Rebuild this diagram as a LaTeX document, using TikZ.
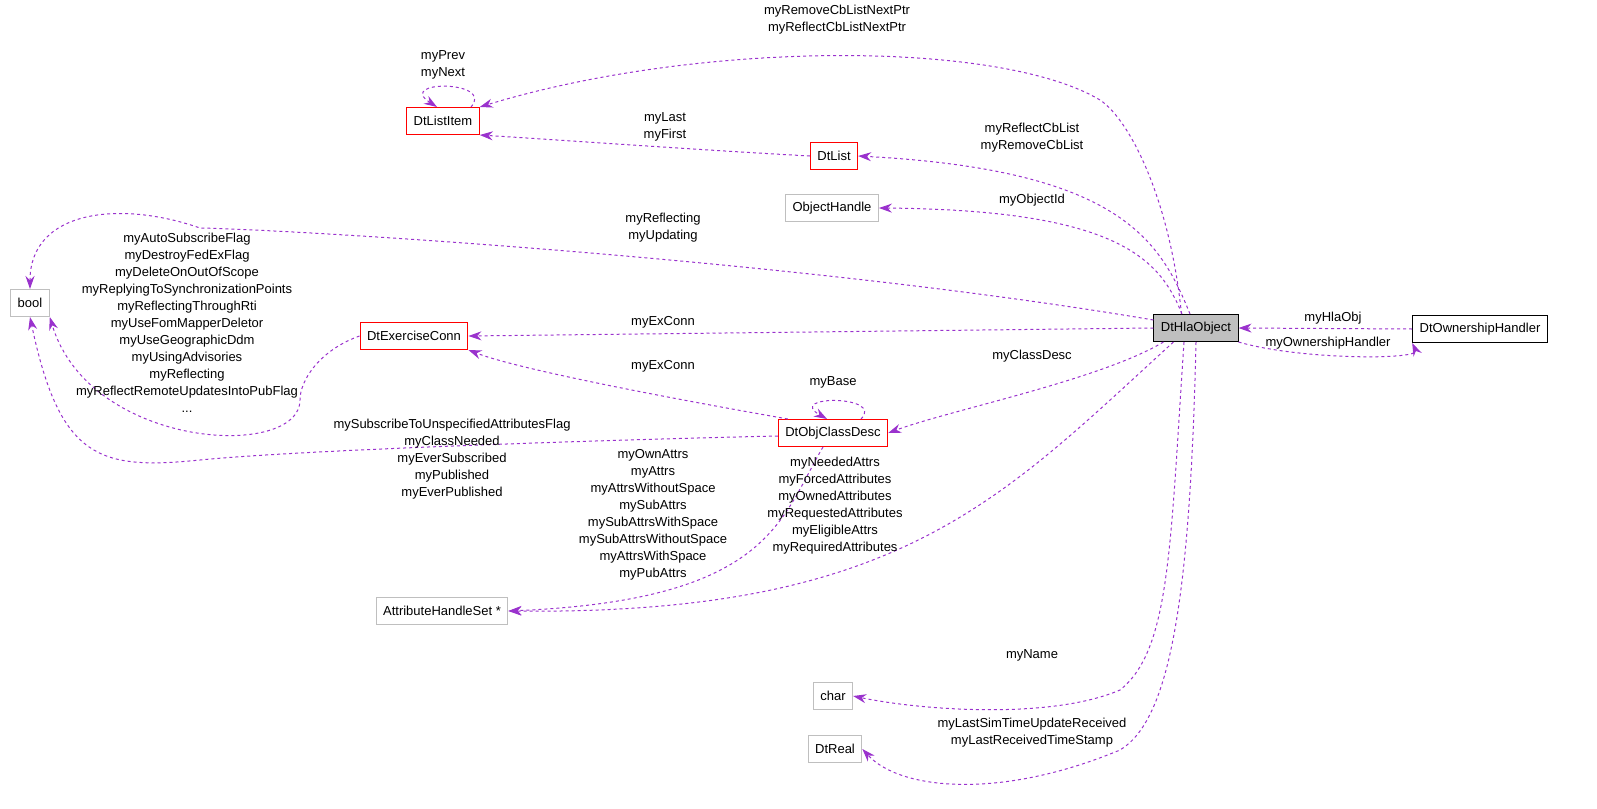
\documentclass[tikz,border=0pt]{standalone}
\usepackage{fontspec}
\setmainfont{Liberation Sans}
\usetikzlibrary{arrows.meta}
\definecolor{edgecol}{HTML}{9A32CD}
\definecolor{boxred}{HTML}{FF0000}
\definecolor{boxgray}{HTML}{BFBFBF}
\begin{document}
\begin{tikzpicture}[x=1pt,y=-1pt,
  every node/.style={font=\fontsize{13}{17}\selectfont},
  cls/.style={draw=boxred,rectangle,minimum height=27pt,inner xsep=7pt,line width=1pt},
  ext/.style={draw=boxgray,rectangle,minimum height=27pt,inner xsep=7pt,line width=1pt},
  use/.style={draw=edgecol,dashed,line width=1pt,-{Stealth[length=13pt,width=9pt]}},
  lbl/.style={align=center,inner sep=1pt}]
\useasboundingbox (0,0) rectangle (1597,808);
% classes
\node[cls] (listitem) at (443,121) {DtListItem};
\node[cls] (list) at (834,156) {DtList};
\node[ext] (objhandle) at (832,208) {ObjectHandle};
\node[ext] (bool) at (30,303) {bool};
\node[cls] (exconn) at (414,336) {DtExerciseConn};
\node[draw=black,fill=boxgray,minimum height=27pt,inner xsep=7pt,line width=1pt] (hla) at (1196,328) {DtHlaObject};
\node[draw=black,minimum height=27pt,inner xsep=7pt,line width=1pt] (owner) at (1480,329) {DtOwnershipHandler};
\node[cls] (classdesc) at (833,433) {DtObjClassDesc};
\node[ext] (ahs) at (442,611) {AttributeHandleSet *};
\node[ext] (char) at (833,696) {char};
\node[ext] (real) at (835,749) {DtReal};
% usage edges
\draw[use] (hla.north west) ++(28,0) .. controls (1170,200) and (1130,120) .. (1100,100)
  .. controls (1000,40) and (700,40) .. (listitem.north east);
\node[lbl] at (837,20) {myRemoveCbListNextPtr\\myReflectCbListNextPtr};
\draw[use] (listitem.north) ++(28,0) .. controls (495,80) and (395,80) .. ([xshift=-6pt]listitem.north);
\node[lbl] at (443,65) {myPrev\\myNext};
\draw[use] (list.west) .. controls (700,150) and (560,140) .. (listitem.south east);
\node[lbl] at (665,127) {myLast\\myFirst};
\draw[use] ([xshift=-6pt]hla.north) .. controls (1160,240) and (1120,170) .. (list.east);
\node[lbl] at (1032,138) {myReflectCbList\\myRemoveCbList};
\draw[use] ([xshift=-14pt]hla.north) .. controls (1160,260) and (1120,210) .. (objhandle.east);
\node[lbl] at (1032,200) {myObjectId};
\draw[use] (hla.west) ++(0,-8) .. controls (800,260) and (300,230) .. (200,228)
  .. controls (120,200) and (30,210) .. (bool.north);
\node[lbl] at (663,228) {myReflecting\\myUpdating};
\draw[use] (hla.west) -- (exconn.east);
\node[lbl] at (663,322) {myExConn};
\draw[use] (hla.south east) .. controls (1300,360) and (1420,360) .. (owner.south west);
\node[lbl] at (1328,343) {myOwnershipHandler};
\draw[use] (owner.west) -- (hla.east);
\node[lbl] at (1333,318) {myHlaObj};
\draw[use] (hla.south west) ++(10,0) .. controls (1100,380) and (950,410) .. (classdesc.east);
\node[lbl] at (1032,356) {myClassDesc};
\draw[use] (classdesc.north west) ++(10,0) .. controls (680,400) and (520,370) .. (exconn.south east);
\node[lbl] at (663,366) {myExConn};
\draw[use] (classdesc.north) ++(28,0) .. controls (885,395) and (785,395) .. ([xshift=-6pt]classdesc.north);
\node[lbl] at (833,382) {myBase};
\draw[use] (exconn.west) .. controls (320,350) and (300,380) .. (300,400)
  .. controls (300,460) and (90,450) .. (bool.south east);
\node[lbl] at (187,323) {myAutoSubscribeFlag\\myDestroyFedExFlag\\myDeleteOnOutOfScope\\myReplyingToSynchronizationPoints\\myReflectingThroughRti\\myUseFomMapperDeletor\\myUseGeographicDdm\\myUsingAdvisories\\myReflecting\\myReflectRemoteUpdatesIntoPubFlag\\...};
\draw[use] (classdesc.west) ++(0,3) .. controls (600,440) and (300,450) .. (200,460)
  .. controls (100,470) and (60,460) .. (bool.south);
\node[lbl] at (452,459) {mySubscribeToUnspecifiedAttributesFlag\\myClassNeeded\\myEverSubscribed\\myPublished\\myEverPublished};
\draw[use] (classdesc.south) ++(-10,0) .. controls (780,520) and (770,600) .. (ahs.east);
\node[lbl] at (653,515) {myOwnAttrs\\myAttrs\\myAttrsWithoutSpace\\mySubAttrs\\mySubAttrsWithSpace\\mySubAttrsWithoutSpace\\myAttrsWithSpace\\myPubAttrs};
\draw[use] (hla.south west) ++(20,0) .. controls (1000,500) and (900,615) .. (ahs.east);
\node[lbl] at (835,506) {myNeededAttrs\\myForcedAttributes\\myOwnedAttributes\\myRequestedAttributes\\myEligibleAttrs\\myRequiredAttributes};
\draw[use] (hla.south) ++(-12,0) .. controls (1170,550) and (1170,650) .. (1120,690)
  .. controls (1050,720) and (920,710) .. (char.east);
\node[lbl] at (1032,655) {myName};
\draw[use] (hla.south) .. controls (1190,600) and (1170,720) .. (1120,750)
  .. controls (1000,800) and (900,790) .. (real.east);
\node[lbl] at (1032,733) {myLastSimTimeUpdateReceived\\myLastReceivedTimeStamp};
\end{tikzpicture}
\end{document}
